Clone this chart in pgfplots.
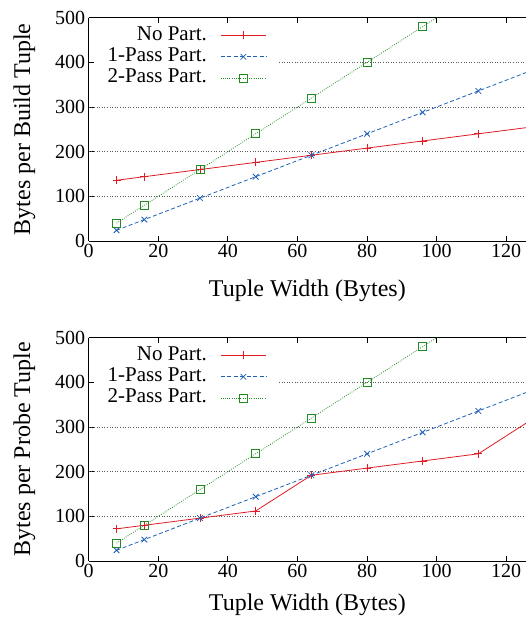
\documentclass[border=0pt]{standalone}
\usepackage{fontspec}
\setmainfont{Liberation Serif}
\usepackage{pgfplots}
\pgfplotsset{compat=1.18}
\definecolor{cred}{RGB}{222,28,38}
\definecolor{cblue}{RGB}{28,96,184}
\definecolor{cgreen}{RGB}{34,139,34}
\tikzset{gridl/.style={black!65, line width=0.6pt, dash pattern=on 1pt off 1.6pt}}
\pgfplotsset{
  myaxis/.style={
    scale only axis, width=437.3pt, height=223.3pt,
    xmin=0, xmax=125.7, ymin=0, ymax=500,
    axis x line*=box, axis y line*=left,
    xtick={0,20,...,120}, ytick={0,100,...,500},
    xticklabel={\hbox{\fontsize{20}{24}\selectfont\pgfmathprintnumber[assume math mode=true]{\tick}}},
    yticklabel={\hbox{\fontsize{20}{24}\selectfont\pgfmathprintnumber[assume math mode=true]{\tick}}},
    xtick pos=both, ytick pos=left,
    tick align=inside, major tick length=5pt,
    axis line style={line width=0.9pt},
    tick style={line width=0.8pt, black},
    tick label style={font=\fontsize{20}{24}\selectfont},
    ylabel style={font=\fontsize{24}{28}\selectfont, at={(axis description cs:-0.147,0.5)}, anchor=center},
    legend style={at={(axis description cs:0.0396,1)}, anchor=north west, yshift=-6.8pt, draw=none, fill=none,
      inner sep=0pt, row sep=0pt,
      nodes={inner xsep=1.5pt, inner ysep=1.5pt, text height=14pt, text depth=4.4pt},
      font=\fontsize{21}{25}\selectfont},
    legend cell align=right,
    legend plot pos=right,
    legend image code/.code={\path (0pt,0pt); \draw[mark repeat=2,mark phase=2,##1] plot coordinates {(11.8pt,0pt) (34.6pt,0pt) (57.4pt,0pt)};},
    xlabel={Tuple Width (Bytes)},
  },
  sA/.style={cred, line width=0.8pt, mark=+, mark size=4pt, mark options={solid}},
  sB/.style={cblue, line width=0.8pt, dash pattern=on 4pt off 2.5pt, mark=x, mark size=4pt, mark options={solid}},
  sC/.style={cgreen, line width=0.8pt, dash pattern=on 0.8pt off 1.4pt, mark=square, mark size=4pt, mark options={solid}},
}
\begin{document}
\begin{tikzpicture}
\path[use as bounding box] (0,0) rectangle (526pt,620pt);
\begin{axis}[myaxis, at={(88.7pt,379pt)}, anchor=south west, ylabel={Bytes per Build Tuple},
  xlabel style={font=\fontsize{24}{28}\selectfont, at={(axis description cs:0.5,-0.2217)}, anchor=center}]
\draw[gridl] (axis cs:0,100) -- (axis cs:125.7,100);
\draw[gridl] (axis cs:0,200) -- (axis cs:125.7,200);
\draw[gridl] (axis cs:0,300) -- (axis cs:125.7,300);
\draw[gridl] (axis cs:54.7,400) -- (axis cs:125.7,400);
\addplot[sA] coordinates {(8,136)(16,144)(32,160)(48,176)(64,192)(80,208)(96,224)(112,240)(128,256)};
\addlegendentry{No Part.}
\addplot[sB] coordinates {(8,24)(16,48)(32,96)(48,144)(64,192)(80,240)(96,288)(112,336)(128,384)};
\addlegendentry{1-Pass Part.}
\addplot[sC] coordinates {(8,40)(16,80)(32,160)(48,240)(64,320)(80,400)(96,480)(112,560)};
\addlegendentry{2-Pass Part.}
\end{axis}
\begin{axis}[myaxis, at={(88.7pt,59pt)}, anchor=south west, ylabel={Bytes per Probe Tuple},
  xlabel style={font=\fontsize{24}{28}\selectfont, at={(axis description cs:0.5,-0.197)}, anchor=center}]
\draw[gridl] (axis cs:0,100) -- (axis cs:125.7,100);
\draw[gridl] (axis cs:0,200) -- (axis cs:125.7,200);
\draw[gridl] (axis cs:0,300) -- (axis cs:125.7,300);
\draw[gridl] (axis cs:54.7,400) -- (axis cs:125.7,400);
\addplot[sA] coordinates {(8,72)(16,80)(32,96)(48,112)(64,192)(80,208)(96,224)(112,240)(128,320)};
\addlegendentry{No Part.}
\addplot[sB] coordinates {(8,24)(16,48)(32,96)(48,144)(64,192)(80,240)(96,288)(112,336)(128,384)};
\addlegendentry{1-Pass Part.}
\addplot[sC] coordinates {(8,40)(16,80)(32,160)(48,240)(64,320)(80,400)(96,480)(112,560)};
\addlegendentry{2-Pass Part.}
\end{axis}
\end{tikzpicture}
\end{document}
